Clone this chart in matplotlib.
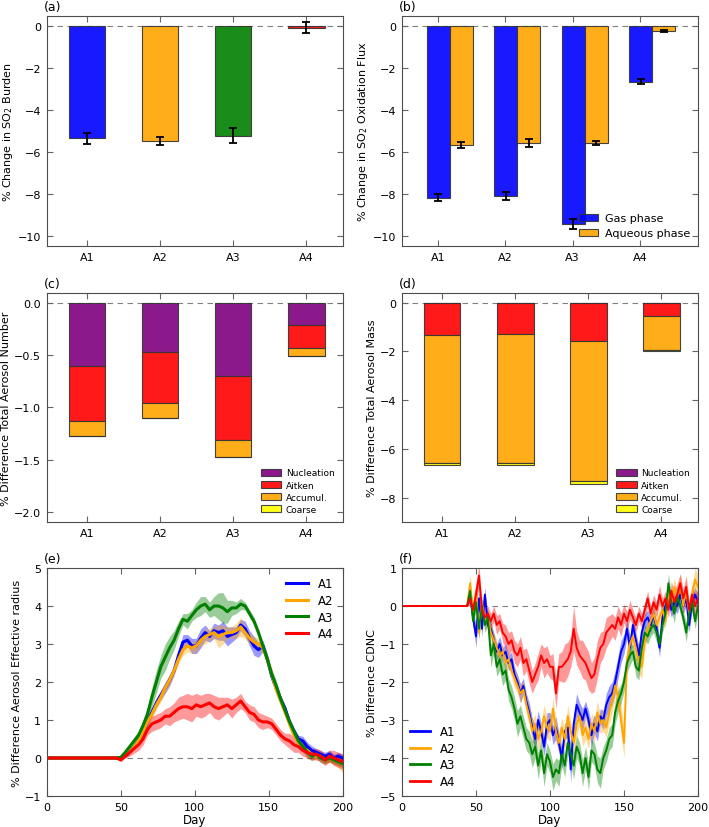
import numpy as np
import matplotlib.pyplot as plt

# ---- data ----
cases = ['A1', 'A2', 'A3', 'A4']

# (a) SO2 burden
so2_burden = [-5.35, -5.48, -5.22, -0.06]
so2_burden_err = [0.25, 0.17, 0.35, 0.25]

# (b) SO2 oxidation flux
gas_phase = [-8.2, -8.12, -9.45, -2.65]
gas_phase_err = [0.17, 0.2, 0.22, 0.12]
aq_phase = [-5.67, -5.57, -5.57, -0.22]
aq_phase_err = [0.14, 0.18, 0.09, 0.06]

# (c) aerosol number by mode
num_nucl = [-0.60, -0.465, -0.695, -0.205]
num_aitk = [-0.53, -0.495, -0.615, -0.225]
num_accu = [-0.14, -0.14, -0.17, -0.076]
num_coar = [0.0, 0.0, 0.0, 0.0]

# (d) aerosol mass by mode
mass_nucl = [0.0, 0.0, 0.0, 0.0]
mass_aitk = [-1.34, -1.30, -1.58, -0.56]
mass_accu = [-5.22, -5.26, -5.75, -1.37]
mass_coar = [-0.11, -0.11, -0.10, -0.05]

# (e) effective radius, days 0 then 47..200 every 3 days
days_e = np.concatenate([[0], np.arange(47, 201, 3)])
reff = {
    'A1': [0, 0, 0.0, 0.05, 0.15, 0.3, 0.45, 0.7, 0.95, 1.2, 1.45,
           1.65, 1.85, 2.05, 2.3, 2.7, 3.05, 3.1, 2.95, 2.95, 3.15,
           3.3, 3.2, 3.35, 3.3, 3.35, 3.2, 3.25, 3.3, 3.5, 3.4,
           3.15, 2.95, 2.85, 2.95, 2.6, 2.15, 1.85, 1.55, 1.3, 0.95,
           0.7, 0.5, 0.45, 0.3, 0.2, 0.15, 0.1, 0.05, 0.1, 0.0,
           0.05, 0.0],
    'A2': [0, 0, 0.0, 0.05, 0.15, 0.3, 0.45, 0.7, 0.95, 1.15, 1.4,
           1.6, 1.85, 2.05, 2.3, 2.6, 2.85, 2.95, 2.9, 2.95, 3.1,
           3.2, 3.25, 3.3, 3.2, 3.25, 3.3, 3.3, 3.35, 3.45, 3.3,
           3.15, 3.05, 3.0, 2.9, 2.6, 2.2, 1.8, 1.5, 1.2, 0.9,
           0.6, 0.4, 0.25, 0.2, 0.1, 0.05, 0.05, -0.05, 0.0, -0.05,
           -0.1, -0.15],
    'A3': [0, 0, 0.02, 0.15, 0.3, 0.45, 0.6, 0.85, 1.15, 1.6, 2.0,
           2.4, 2.65, 2.9, 3.1, 3.4, 3.65, 3.6, 3.75, 3.9, 4.0,
           4.05, 3.9, 4.0, 4.0, 3.95, 3.85, 3.95, 3.95, 4.05, 4.0,
           3.8, 3.6, 3.3, 2.95, 2.6, 2.2, 1.9, 1.55, 1.25, 0.95,
           0.7, 0.45, 0.3, 0.15, 0.05, 0.1, 0.0, -0.05, 0.0, -0.05,
           -0.1, -0.15],
    'A4': [0, 0, -0.05, 0.05, 0.15, 0.25, 0.35, 0.5, 0.75, 0.9, 0.95,
           1.0, 1.1, 1.1, 1.2, 1.3, 1.35, 1.35, 1.3, 1.4, 1.35,
           1.4, 1.45, 1.35, 1.3, 1.35, 1.4, 1.3, 1.4, 1.5, 1.35,
           1.2, 1.15, 1.0, 0.95, 0.95, 0.9, 0.75, 0.6, 0.5, 0.45,
           0.35, 0.3, 0.2, 0.15, 0.1, 0.1, 0.05, -0.05, 0.05, 0.0,
           -0.05, -0.1],
}
reff_spread = {
    'A1': [0, 0, 0.02, 0.04, 0.05, 0.06, 0.08, 0.1, 0.1, 0.1, 0.12,
           0.12, 0.15, 0.15, 0.12, 0.15, 0.2, 0.15, 0.2, 0.2, 0.25,
           0.2, 0.15, 0.2, 0.2, 0.25, 0.25, 0.2, 0.15, 0.15, 0.2,
           0.2, 0.25, 0.2, 0.15, 0.15, 0.15, 0.12, 0.1, 0.1, 0.1,
           0.1, 0.1, 0.12, 0.12, 0.12, 0.1, 0.1, 0.1, 0.1, 0.1,
           0.1, 0.1],
    'A2': [0, 0, 0.02, 0.04, 0.05, 0.06, 0.08, 0.1, 0.1, 0.12, 0.12,
           0.12, 0.12, 0.12, 0.1, 0.12, 0.15, 0.15, 0.15, 0.15, 0.15,
           0.2, 0.15, 0.15, 0.3, 0.25, 0.15, 0.15, 0.2, 0.25, 0.15,
           0.15, 0.15, 0.15, 0.15, 0.12, 0.12, 0.12, 0.1, 0.1, 0.1,
           0.1, 0.1, 0.1, 0.12, 0.1, 0.1, 0.1, 0.1, 0.12, 0.12,
           0.15, 0.25],
    'A3': [0, 0, 0.03, 0.05, 0.08, 0.1, 0.12, 0.15, 0.2, 0.25, 0.3,
           0.3, 0.35, 0.3, 0.25, 0.2, 0.15, 0.2, 0.15, 0.2, 0.25,
           0.2, 0.2, 0.25, 0.35, 0.4, 0.3, 0.2, 0.15, 0.15, 0.1,
           0.1, 0.1, 0.1, 0.1, 0.12, 0.15, 0.15, 0.1, 0.1, 0.1,
           0.1, 0.1, 0.12, 0.15, 0.12, 0.1, 0.12, 0.1, 0.1, 0.1,
           0.1, 0.1],
    'A4': [0, 0, 0.05, 0.05, 0.1, 0.12, 0.15, 0.15, 0.15, 0.2, 0.2,
           0.2, 0.2, 0.25, 0.25, 0.3, 0.3, 0.35, 0.35, 0.3, 0.3,
           0.3, 0.25, 0.3, 0.3, 0.25, 0.2, 0.25, 0.2, 0.2, 0.15,
           0.2, 0.2, 0.2, 0.2, 0.15, 0.15, 0.15, 0.15, 0.15, 0.2,
           0.2, 0.15, 0.15, 0.15, 0.15, 0.15, 0.15, 0.15, 0.15, 0.2,
           0.2, 0.2],
}

# (f) CDNC, days 0 then 44..200 every 2 days
days_f = np.concatenate([[0], np.arange(44, 201, 2)])
cdnc = {
    'A1': [0,
           0, 0.3, -0.3, -0.8, 0.2, -0.6, 0.3, -0.5, -0.6, -0.9,
           -1.2, -1.0, -1.3, -1.2, -1.5, -1.4, -1.8, -2.0, -2.3, -2.1,
           -2.5, -2.8, -3.2, -3.5, -3.0, -3.3, -3.7, -3.1, -3.0, -3.4,
           -3.2, -3.6, -4.0, -3.3, -3.2, -4.3, -3.1, -2.6, -2.8, -3.0,
           -2.7, -3.0, -3.4, -3.1, -3.3, -2.9, -3.0, -2.6, -2.4, -2.3,
           -2.0, -1.6, -1.2, -1.0, -0.6, -1.1, -0.5, -0.9, -1.3, -0.7,
           -0.4, -0.3, -0.5, -0.2, -0.6, -1.1, -0.3, 0.0, 0.2, -0.1,
           0.1, 0.0, 0.3, 0.0, 0.2, -0.5, 0.1, 0.3, 0.1],
    'A2': [0,
           0, 0.6, -0.2, 0.4, -0.7, 0.1, -0.4, -0.3, -0.7, -0.9,
           -1.1, -1.3, -1.2, -1.5, -1.4, -1.7, -1.9, -2.1, -2.3, -2.2,
           -2.6, -2.9, -3.3, -3.1, -3.5, -3.3, -2.9, -3.2, -3.3, -2.7,
           -3.3, -3.6, -3.2, -3.5, -2.9, -3.3, -3.6, -3.1, -2.9, -3.4,
           -3.2, -3.5, -3.1, -3.3, -2.8, -3.1, -3.0, -3.2, -2.8, -2.5,
           -2.1, -2.4, -3.0, -3.6, -1.4, -1.0, -0.8, -1.1, -1.5, -1.6,
           -0.9, -0.6, -0.4, -0.2, -0.5, -0.3, -0.1, -0.4, 0.3, 0.1,
           0.5, 0.2, 0.6, 0.0, 0.4, -0.2, 0.3, 0.7, 0.5],
    'A3': [0,
           0, 0.4, -0.4, 0.1, -0.6, 0.0, -0.5, -0.3, -1.3, -1.0,
           -1.6, -1.4, -1.8, -1.7, -2.2, -2.4, -2.7, -3.1, -2.9, -3.2,
           -3.5, -3.6, -3.9, -3.7, -4.2, -3.8, -4.4, -3.9, -4.1, -4.5,
           -4.3, -4.4, -3.9, -4.2, -3.6, -3.9, -4.2, -3.7, -3.9, -4.4,
           -4.0, -4.5, -3.8, -3.9, -4.3, -4.4, -4.0, -3.8, -3.5, -3.4,
           -2.8, -2.5, -2.3, -2.0, -1.5, -1.3, -1.2, -1.6, -1.7, -1.1,
           -0.7, -0.8, -0.6, -0.5, -0.7, -1.0, -0.5, -0.2, 0.6, 0.1,
           -0.2, 0.3, 0.0, -0.3, -0.7, -0.2, 0.1, -0.4, 0.0],
    'A4': [0,
           0, 0.2, -0.1, 0.3, 0.8, -0.1, -0.3, -0.2, -0.4, -0.2,
           -0.5, -0.4, -0.7, -0.8, -1.0, -0.9, -1.2, -1.3, -1.1, -1.5,
           -1.4, -1.7, -2.0, -1.8, -1.6, -1.3, -1.5, -1.4, -1.6, -1.6,
           -2.3, -1.6, -1.6, -1.5, -1.4, -1.2, -0.6, -1.1, -1.3, -1.4,
           -1.5, -1.7, -1.9, -1.8, -1.4, -1.1, -1.0, -0.7, -0.6, -0.5,
           -0.6, -0.3, -0.5, -0.2, -0.4, -0.1, -0.3, -0.5, -0.2, -0.4,
           -0.1, 0.2, -0.2, 0.1, -0.1, 0.3, 0.0, 0.2, -0.1, 0.4,
           0.1, 0.3, 0.6, 0.2, 0.5, -0.1, 0.3, 0.0, 0.2],
}
cdnc_spread = {
    'A1': [0,
           0, 0.2, 0.2, 0.3, 0.2, 0.2, 0.2, 0.2, 0.2, 0.2,
           0.2, 0.2, 0.2, 0.2, 0.2, 0.2, 0.2, 0.2, 0.25, 0.2,
           0.2, 0.25, 0.25, 0.3, 0.25, 0.2, 0.25, 0.3, 0.2, 0.25,
           0.3, 0.25, 0.3, 0.2, 0.25, 0.35, 0.25, 0.3, 0.25, 0.3,
           0.2, 0.25, 0.3, 0.25, 0.25, 0.2, 0.25, 0.3, 0.3, 0.3,
           0.3, 0.3, 0.3, 0.25, 0.25, 0.3, 0.2, 0.2, 0.25, 0.2,
           0.2, 0.2, 0.2, 0.15, 0.2, 0.25, 0.2, 0.2, 0.2, 0.2,
           0.2, 0.2, 0.2, 0.2, 0.2, 0.2, 0.2, 0.2, 0.2],
    'A2': [0,
           0, 0.25, 0.2, 0.25, 0.2, 0.2, 0.2, 0.2, 0.2, 0.2,
           0.2, 0.2, 0.2, 0.25, 0.2, 0.2, 0.25, 0.2, 0.25, 0.2,
           0.25, 0.2, 0.3, 0.25, 0.3, 0.25, 0.3, 0.3, 0.25, 0.3,
           0.3, 0.3, 0.25, 0.3, 0.3, 0.25, 0.3, 0.3, 0.25, 0.3,
           0.3, 0.25, 0.3, 0.3, 0.3, 0.25, 0.3, 0.25, 0.3, 0.3,
           0.3, 0.3, 0.4, 0.4, 0.3, 0.25, 0.25, 0.3, 0.3, 0.3,
           0.25, 0.2, 0.2, 0.2, 0.2, 0.2, 0.2, 0.2, 0.25, 0.2,
           0.25, 0.2, 0.25, 0.2, 0.25, 0.2, 0.25, 0.3, 0.3],
    'A3': [0,
           0, 0.2, 0.2, 0.2, 0.25, 0.2, 0.2, 0.2, 0.3, 0.25,
           0.25, 0.3, 0.3, 0.25, 0.3, 0.3, 0.3, 0.35, 0.3, 0.3,
           0.3, 0.3, 0.35, 0.3, 0.35, 0.3, 0.35, 0.3, 0.3, 0.35,
           0.3, 0.35, 0.3, 0.3, 0.3, 0.3, 0.35, 0.3, 0.3, 0.35,
           0.3, 0.35, 0.3, 0.3, 0.35, 0.4, 0.3, 0.3, 0.3, 0.3,
           0.3, 0.3, 0.25, 0.25, 0.25, 0.25, 0.2, 0.25, 0.25, 0.2,
           0.2, 0.2, 0.2, 0.2, 0.25, 0.2, 0.2, 0.2, 0.25, 0.2,
           0.25, 0.2, 0.2, 0.2, 0.25, 0.2, 0.2, 0.2, 0.2],
    'A4': [0,
           0, 0.2, 0.2, 0.3, 0.3, 0.2, 0.2, 0.2, 0.2, 0.2,
           0.25, 0.2, 0.25, 0.3, 0.3, 0.25, 0.3, 0.3, 0.3, 0.35,
           0.3, 0.35, 0.3, 0.3, 0.35, 0.3, 0.4, 0.35, 0.3, 0.35,
           0.4, 0.35, 0.4, 0.5, 0.45, 0.4, 0.6, 0.45, 0.4, 0.5,
           0.45, 0.5, 0.4, 0.45, 0.5, 0.4, 0.35, 0.4, 0.35, 0.3,
           0.3, 0.3, 0.3, 0.25, 0.25, 0.25, 0.2, 0.2, 0.2, 0.2,
           0.2, 0.2, 0.2, 0.2, 0.2, 0.25, 0.2, 0.2, 0.2, 0.25,
           0.25, 0.3, 0.25, 0.25, 0.3, 0.25, 0.25, 0.3, 0.25],
}

case_colors = {'A1': 'blue', 'A2': 'orange', 'A3': 'green', 'A4': 'red'}
mode_colors = ['purple', 'red', 'orange', 'yellow']
mode_names = ['Nucleation', 'Aitken', 'Accumul.', 'Coarse']

plt.rcParams['font.family'] = 'DejaVu Sans'
plt.rcParams['font.size'] = 8
plt.rcParams['axes.edgecolor'] = '0.3'

fig = plt.figure(figsize=(7.09, 8.28), dpi=100)

W = 0.4175
col_x = [0.066, 0.567]
row_y = [(0.7017, 0.2778), (0.3684, 0.2766), (0.0374, 0.2754)]
axs = []
for ry, rh in row_y:
    for cx in col_x:
        axs.append(fig.add_axes([cx, ry, W, rh]))
ax_a, ax_b, ax_c, ax_d, ax_e, ax_f = axs

for ax, lab in zip(axs, 'abcdef'):
    ax.text(-0.01, 1.015, '(%s)' % lab, transform=ax.transAxes,
            ha='left', va='bottom', fontsize=9)
    ax.axhline(0, color='0.5', ls='--', lw=0.8, dashes=(5, 4), zorder=0)
    ax.tick_params(direction='in', top=True, right=True, length=4,
                   color='0.4', labelsize=8, pad=4)

x = np.arange(len(cases))
ylab_kw = dict(fontsize=8, labelpad=2)

# (a)
ax_a.bar(x, so2_burden, width=0.5, color=[case_colors[c] for c in cases],
         alpha=0.9, edgecolor='0.2', linewidth=0.8)
ax_a.errorbar(x, so2_burden, yerr=so2_burden_err, fmt='none', ecolor='k',
              elinewidth=1.3, capsize=3, capthick=1.3)
ax_a.set_xlim(-0.55, 3.5)
ax_a.set_ylim(-10.5, 0.5)
ax_a.set_xticks(x)
ax_a.set_xticklabels(cases)
ax_a.set_ylabel('% Change in SO$_2$ Burden', **ylab_kw)

# (b)
bw = 0.34
ax_b.bar(x - bw / 2, gas_phase, width=bw, color='blue', alpha=0.9,
         edgecolor='0.2', linewidth=0.8, label='Gas phase')
ax_b.bar(x + bw / 2, aq_phase, width=bw, color='orange', alpha=0.9,
         edgecolor='0.2', linewidth=0.8, label='Aqueous phase')
ax_b.errorbar(x - bw / 2, gas_phase, yerr=gas_phase_err, fmt='none',
              ecolor='k', elinewidth=1.3, capsize=3, capthick=1.3)
ax_b.errorbar(x + bw / 2, aq_phase, yerr=aq_phase_err, fmt='none',
              ecolor='k', elinewidth=1.3, capsize=3, capthick=1.3)
ax_b.set_xlim(-0.71, 3.68)
ax_b.set_ylim(-10.5, 0.5)
ax_b.set_xticks(x - 0.18)
ax_b.set_xticklabels(cases)
ax_b.set_ylabel('% Change in SO$_2$ Oxidation Flux', **ylab_kw)
ax_b.legend(loc='lower right', frameon=False, fontsize=8,
            handlelength=1.7, handleheight=0.6, handletextpad=0.6,
            labelspacing=0.45, borderaxespad=0.3)


def stacked(ax, parts):
    bottom = np.zeros(len(cases))
    for vals, col, name in zip(parts, mode_colors, mode_names):
        ax.bar(x, vals, width=0.5, bottom=bottom, color=col, alpha=0.9,
               edgecolor='0.2', linewidth=0.8, label=name)
        bottom = bottom + np.array(vals)
    ax.set_xlim(-0.55, 3.5)
    ax.set_xticks(x)
    ax.set_xticklabels(cases)
    ax.legend(loc='lower right', frameon=False, fontsize=6.5,
              handlelength=2.3, handleheight=0.8, labelspacing=0.35,
              handletextpad=0.5, borderaxespad=0.5)


# (c)
stacked(ax_c, [num_nucl, num_aitk, num_accu, num_coar])
ax_c.set_ylim(-2.1, 0.1)
ax_c.set_yticks([0.0, -0.5, -1.0, -1.5, -2.0])
ax_c.set_yticklabels(['0.0', '\u22120.5', '\u22121.0', '\u22121.5', '\u22122.0'])
ax_c.set_ylabel('% Difference Total Aerosol Number', **ylab_kw)

# (d)
stacked(ax_d, [mass_nucl, mass_aitk, mass_accu, mass_coar])
ax_d.set_ylim(-9, 0.4)
ax_d.set_yticks([0, -2, -4, -6, -8])
ax_d.set_ylabel('% Difference Total Aerosol Mass', **ylab_kw)

# (e)
for c in cases:
    y = np.array(reff[c])
    s = np.array(reff_spread[c])
    ax_e.fill_between(days_e, y - s, y + s, color=case_colors[c],
                      alpha=0.4, linewidth=0)
    ax_e.plot(days_e, y, color=case_colors[c], lw=2.2, label=c)
ax_e.set_xlim(0, 200)
ax_e.set_ylim(-1, 5)
ax_e.set_xticks([0, 50, 100, 150, 200])
ax_e.set_xlabel('Day', fontsize=8.5, labelpad=1)
ax_e.set_ylabel('% Difference Aerosol Effective radius', **ylab_kw)
ax_e.legend(loc='upper right', frameon=False, fontsize=8.5,
            handlelength=1.9, labelspacing=0.3, borderaxespad=0.4)

# (f)
for c in cases:
    y = np.array(cdnc[c])
    s = np.array(cdnc_spread[c])
    ax_f.fill_between(days_f, y - s, y + s, color=case_colors[c],
                      alpha=0.4, linewidth=0)
    ax_f.plot(days_f, y, color=case_colors[c], lw=1.4, label=c)
ax_f.set_xlim(0, 200)
ax_f.set_ylim(-5, 1)
ax_f.set_xticks([0, 50, 100, 150, 200])
ax_f.set_xlabel('Day', fontsize=8.5, labelpad=1)
ax_f.set_ylabel('% Difference CDNC', **ylab_kw)
leg = ax_f.legend(loc='lower left', frameon=False, fontsize=8.5,
                  handlelength=1.7, labelspacing=0.3, borderaxespad=0.3)
for ln in leg.get_lines():
    ln.set_linewidth(2)

fig.savefig('out.png', dpi=100)
